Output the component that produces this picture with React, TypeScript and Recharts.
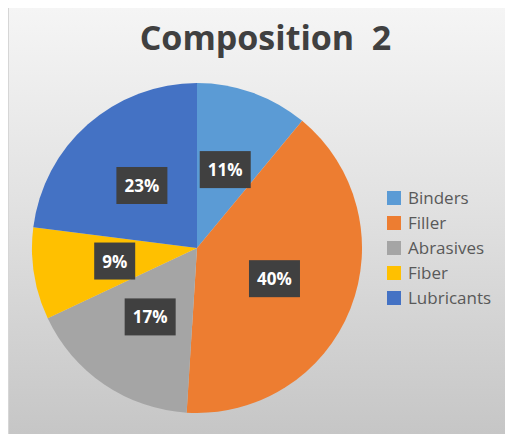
import React from "react";
import { PieChart, Pie, Cell, Legend } from "recharts";

const categories = ["Binders", "Filler", "Abrasives", "Fiber", "Lubricants"];
const shares = [11, 40, 17, 9, 23];
const colors = ["#5B9BD5", "#ED7D31", "#A5A5A5", "#FFC000", "#4472C4"];

const data = categories.map((name, i) => ({ name, value: shares[i] }));

const RAD = Math.PI / 180;

// dark boxed percentage label at half radius, like the Office default
function BoxLabel(props: any) {
  const { cx, cy, midAngle, outerRadius, percent } = props;
  const r = outerRadius * 0.505;
  const x = cx + r * Math.cos(-midAngle * RAD);
  const y = cy + r * Math.sin(-midAngle * RAD);
  const txt = `${Math.round(percent * 100)}%`;
  const w = txt.length > 2 ? 51 : 41;
  const h = 37;
  return (
    <g>
      <rect x={x - w / 2} y={y - h / 2} width={w} height={h} fill="#404040" />
      <text
        x={x}
        y={y}
        fill="#ffffff"
        textAnchor="middle"
        dominantBaseline="central"
        fontFamily="'Open Sans', sans-serif"
        fontWeight={700}
        fontSize={17}
      >
        {txt}
      </text>
    </g>
  );
}

// keep the series order (recharts sorts legend items otherwise)
function LegendList() {
  return (
    <ul style={{ listStyle: "none", margin: 0, padding: 0 }}>
      {categories.map((name, i) => (
        <li key={name} style={{ display: "flex", alignItems: "center", height: 25 }}>
          <span
            style={{
              display: "inline-block",
              width: 14,
              height: 14,
              marginRight: 7,
              backgroundColor: colors[i],
            }}
          />
          <span
            style={{
              fontFamily: "'Open Sans', sans-serif",
              fontSize: 17,
              color: "#595959",
            }}
          >
            {name}
          </span>
        </li>
      ))}
    </ul>
  );
}

export default function App() {
  return (
    <div
      style={{
        position: "relative",
        width: 505,
        height: 427,
        marginTop: -1,
        borderTop: "1px solid #d6d6d6",
        borderLeft: "1px solid #d6d6d6",
        background: "linear-gradient(to bottom, #f5f5f5 0%, #e2e2e2 45%, #c6c6c6 100%)",
        boxSizing: "border-box",
      }}
    >
      <div
        style={{
          position: "absolute",
          top: 6,
          left: 0,
          width: 513,
          textAlign: "center",
          fontFamily: "'Open Sans', sans-serif",
          fontWeight: 700,
          fontSize: 34,
          color: "#404040",
          whiteSpace: "pre",
        }}
      >
        {"Composition  2"}
      </div>
      <PieChart
        width={504}
        height={426}
        margin={{ top: 0, right: 0, bottom: 0, left: 0 }}
        style={{ position: "absolute", left: 0, top: 0 }}
      >
        <Pie
          data={data}
          dataKey="value"
          nameKey="name"
          cx={188}
          cy={240}
          outerRadius={165}
          startAngle={90}
          endAngle={-270}
          stroke="none"
          label={BoxLabel}
          labelLine={false}
          isAnimationActive={false}
        >
          {data.map((d, i) => (
            <Cell key={d.name} fill={colors[i]} />
          ))}
        </Pie>
        <Legend
          layout="vertical"
          content={<LegendList />}
          wrapperStyle={{ left: 378, top: 177, width: 126 }}
        />
      </PieChart>
    </div>
  );
}
